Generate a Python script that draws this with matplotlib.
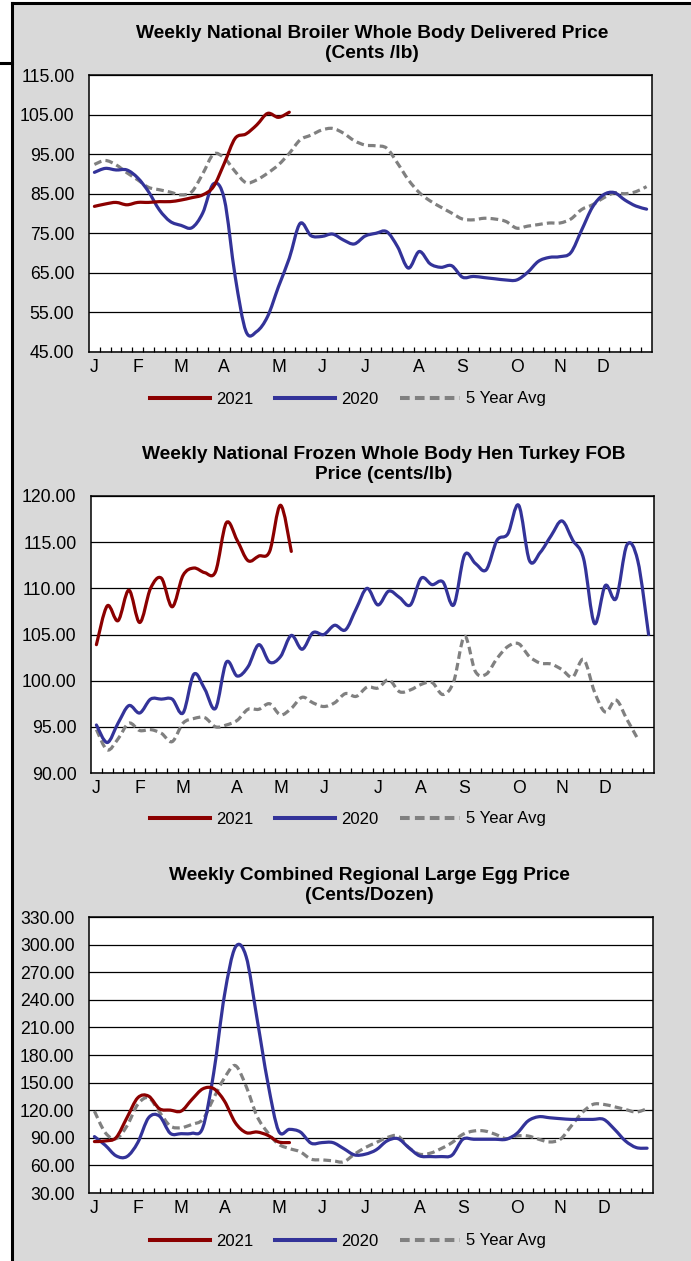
import numpy as np
import matplotlib
matplotlib.use("Agg")
import matplotlib.pyplot as plt
from matplotlib.path import Path
from matplotlib.patches import PathPatch, Rectangle
from matplotlib.lines import Line2D

# ---------------- data ----------------
weeks = np.arange(52)
month_labels = ["J", "F", "M", "A", "M", "J", "J", "A", "S", "O", "N", "D"]
month_weeks_a = [0, 4, 8, 12, 17, 21, 25, 30, 34, 39, 43, 47]
month_weeks_b = [0, 4, 8, 13, 17, 21, 26, 30, 34, 39, 43, 47]
series_names = ["2021", "2020", "5 Year Avg"]

broiler_title = "Weekly National Broiler Whole Body Delivered Price\n(Cents /lb)"
broiler_2021 = [81.8, 82.4, 82.8, 82.2, 82.8, 82.8, 83.0, 83.0, 83.4, 84.0, 84.7, 86.8, 92.7,
                99.0, 100.1, 102.4, 105.3, 104.3, 105.6]
broiler_2020 = [90.4, 91.4, 91.0, 91.0, 89.0, 85.5, 80.9, 78.0, 77.0, 76.4, 80.1, 87.5, 83.6,
                64.1, 50.2, 50.2, 54.0, 61.5, 68.7, 77.5, 74.4, 74.2, 74.8, 73.3, 72.3, 74.3,
                75.0, 75.4, 71.6, 66.2, 70.4, 67.3, 66.4, 66.8, 63.9, 64.1, 63.8, 63.5, 63.2,
                63.2, 65.1, 67.9, 68.9, 69.1, 70.1, 75.8, 81.6, 84.7, 85.3, 83.4, 81.9, 81.1]
broiler_5yr = [92.4, 93.4, 92.3, 90.3, 88.5, 86.6, 86.0, 85.4, 84.7, 85.5, 90.0, 95.0, 94.0,
               90.6, 87.8, 88.5, 90.2, 92.3, 95.2, 98.6, 99.8, 101.1, 101.5, 100.3, 98.4, 97.3,
               97.1, 96.5, 92.7, 88.5, 85.3, 83.2, 81.6, 80.1, 78.6, 78.4, 78.8, 78.6, 78.0,
               76.3, 76.8, 77.2, 77.6, 77.6, 78.6, 81.0, 82.2, 83.9, 85.2, 85.0, 85.5, 86.8]
broiler_yticks = [45, 55, 65, 75, 85, 95, 105, 115]

turkey_title = "Weekly National Frozen Whole Body Hen Turkey FOB\nPrice (cents/lb)"
turkey_2021 = [103.9, 108.1, 106.5, 109.8, 106.3, 110.0, 111.1, 108.0, 111.4, 112.2, 111.7,
               111.8, 117.1, 115.2, 113.0, 113.5, 114.0, 119.0, 114.0]
turkey_2020 = [95.2, 93.3, 95.4, 97.3, 96.5, 98.0, 98.0, 98.0, 96.5, 100.7, 99.1, 97.0, 102.0,
               100.5, 101.5, 103.9, 102.0, 102.6, 104.9, 103.4, 105.2, 105.0, 106.0, 105.5,
               107.8, 110.0, 108.2, 109.7, 109.0, 108.2, 111.1, 110.4, 110.7, 108.2, 113.6,
               112.7, 112.0, 115.2, 115.9, 119.0, 113.0, 113.9, 115.7, 117.3, 115.2, 113.2,
               106.2, 110.3, 108.9, 114.7, 113.0, 105.0]
turkey_5yr = [94.7, 92.5, 93.7, 95.4, 94.6, 94.7, 94.3, 93.4, 95.4, 95.9, 96.0, 95.0, 95.2,
              95.7, 96.9, 96.9, 97.5, 96.3, 97.0, 98.2, 97.6, 97.2, 97.6, 98.6, 98.3, 99.3,
              99.2, 100.1, 98.8, 99.0, 99.6, 99.8, 98.5, 99.9, 104.8, 101.0, 100.7, 102.4,
              103.7, 104.0, 102.6, 101.9, 101.8, 101.2, 100.4, 102.3, 98.8, 96.6, 97.9, 95.8,
              93.7, np.nan]
turkey_yticks = [90, 95, 100, 105, 110, 115, 120]

egg_title = "Weekly Combined Regional Large Egg Price\n(Cents/Dozen)"
egg_2021 = [85.9, 86.6, 90.2, 111.8, 133.5, 135.3, 121.6, 120.1, 119.0, 131.7, 143.2, 143.5,
            129.9, 106.4, 95.6, 96.3, 92.7, 85.5, 84.8]
egg_2020 = [91.3, 81.9, 70.4, 69.6, 84.8, 111.8, 113.6, 94.9, 94.5, 94.9, 101.0, 160.0, 245.0,
            297.0, 287.0, 220.0, 150.0, 97.4, 99.2, 96.3, 84.1, 84.8, 84.8, 78.3, 71.4, 72.2,
            76.9, 86.6, 89.1, 79.4, 70.4, 69.6, 69.6, 71.1, 88.4, 88.4, 88.4, 88.4, 88.4, 94.9,
            108.2, 112.9, 111.8, 110.8, 110.0, 110.0, 110.0, 110.0, 99.2, 86.6, 79.4, 78.7]
egg_5yr = [119.0, 95.6, 89.1, 102.8, 126.3, 133.5, 118.0, 102.8, 101.0, 104.6, 110.0, 133.0,
           155.0, 168.5, 146.0, 113.6, 95.6, 83.0, 78.3, 74.7, 66.8, 66.0, 65.0, 63.9, 72.2,
           79.4, 84.8, 90.2, 92.0, 79.4, 72.2, 73.3, 78.3, 84.8, 93.8, 97.4, 97.4, 93.8, 89.1,
           92.0, 92.0, 88.4, 85.5, 88.4, 102.8, 117.2, 126.3, 126.3, 123.7, 120.8, 118.0, 121.6]
egg_yticks = [30, 60, 90, 120, 150, 180, 210, 240, 270, 300, 330]

# ---------------- style ----------------
W, H = 691, 1261
RED = "#8B0000"
BLUE = "#333399"
GRAY = "#808080"
BG = "#D9D9D9"
LW = 2.3
DASH = (0, (2.4, 1.3))
TICKFS = 12.7
LEGFS = 12.0
TITLEFS = 13.8

plt.rcParams["font.family"] = ["Liberation Sans", "DejaVu Sans"]

fig = plt.figure(figsize=(W / 100, H / 100), dpi=100, facecolor="white")

# grey panel with black border on top and left
fig.patches.append(Rectangle((12 / W, 0), 1 - 12 / W, 1 - 3.3 / H, transform=fig.transFigure,
                             facecolor=BG, edgecolor="none", zorder=-10))
fig.lines.append(Line2D([12 / W, 12 / W], [0, 1 - 3.3 / H], transform=fig.transFigure,
                        color="black", lw=2.2, solid_capstyle="projecting", zorder=-5))
fig.lines.append(Line2D([12 / W, 1], [1 - 3.3 / H, 1 - 3.3 / H], transform=fig.transFigure,
                        color="black", lw=2.2, solid_capstyle="projecting", zorder=-5))
fig.lines.append(Line2D([0, 12 / W], [1 - 63 / H, 1 - 63 / H], transform=fig.transFigure,
                        color="black", lw=2.2, zorder=-5))


def smooth_path(xs, ys):
    xs = np.asarray(xs, float)
    ys = np.asarray(ys, float)
    ok = ~np.isnan(ys)
    P = np.column_stack([xs[ok], ys[ok]])
    n = len(P)
    verts = [tuple(P[0])]
    codes = [Path.MOVETO]
    for i in range(n - 1):
        p0 = P[i - 1] if i > 0 else P[i]
        p1 = P[i]
        p2 = P[i + 1]
        p3 = P[i + 2] if i + 2 < n else P[i + 1]
        c1 = p1 + (p2 - p0) / 6.0
        c2 = p2 - (p3 - p1) / 6.0
        verts += [tuple(c1), tuple(c2), tuple(p2)]
        codes += [Path.CURVE4] * 3
    return Path(verts, codes)


def panel(rect_px, title, title_x, s21, s20, s5, yticks, mweeks, legend_y):
    l, r, t, b = rect_px
    ax = fig.add_axes([l / W, 1 - b / H, (r - l) / W, (b - t) / H])
    ax.set_facecolor("white")
    ax.set_xlim(-0.5, 51.5)
    ax.set_ylim(yticks[0], yticks[-1])
    ax.set_yticks(yticks)
    ax.set_yticklabels([f"{v:.2f}" for v in yticks], fontsize=TICKFS)
    ax.tick_params(axis="y", length=0, pad=10.5)
    ax.yaxis.grid(True, color="black", lw=0.9)
    ax.set_axisbelow(True)
    # tick marks between week categories
    ax.set_xticks(np.arange(0.5, 51, 1.0))
    ax.set_xticklabels([])
    ax.tick_params(axis="x", which="major", direction="in", length=3.6, width=0.9)
    ax.set_xticks(mweeks, minor=True)
    ax.set_xticklabels(month_labels, minor=True, fontsize=TICKFS)
    ax.tick_params(axis="x", which="minor", length=0, pad=5)
    for sp in ax.spines.values():
        sp.set_linewidth(1.1)
        sp.set_color("black")
    x = weeks
    ax.add_patch(PathPatch(smooth_path(x[:len(s5)], s5), fill=False, edgecolor=GRAY,
                           lw=LW, linestyle=DASH, capstyle="butt", zorder=3))
    ax.add_patch(PathPatch(smooth_path(x[:len(s20)], s20), fill=False, edgecolor=BLUE,
                           lw=LW, joinstyle="round", capstyle="round", zorder=4))
    ax.add_patch(PathPatch(smooth_path(x[:len(s21)], s21), fill=False, edgecolor=RED,
                           lw=LW, joinstyle="round", capstyle="round", zorder=5))
    ax.set_title(title, fontsize=TITLEFS, fontweight="bold", pad=12.5, linespacing=1.22,
                 x=title_x)
    handles = [Line2D([], [], color=RED, lw=LW + 0.6),
               Line2D([], [], color=BLUE, lw=LW + 0.6),
               Line2D([], [], color=GRAY, lw=LW + 0.6, linestyle=DASH)]
    fig.legend(handles, series_names, loc="center",
               bbox_to_anchor=(348 / W, 1 - legend_y / H), ncol=3, frameon=False,
               fontsize=LEGFS, handlelength=3.6, handletextpad=0.35, columnspacing=1.3)
    return ax


panel((89, 652, 75, 352), broiler_title, 0.503, broiler_2021, broiler_2020, broiler_5yr,
      broiler_yticks, month_weeks_a, 399)
panel((91, 654, 496, 773), turkey_title, 0.52, turkey_2021, turkey_2020, turkey_5yr,
      turkey_yticks, month_weeks_b, 819)
panel((89, 652.5, 917, 1193), egg_title, 0.497, egg_2021, egg_2020, egg_5yr,
      egg_yticks, month_weeks_a, 1241)

fig.savefig("out.png", dpi=100, facecolor="white")
